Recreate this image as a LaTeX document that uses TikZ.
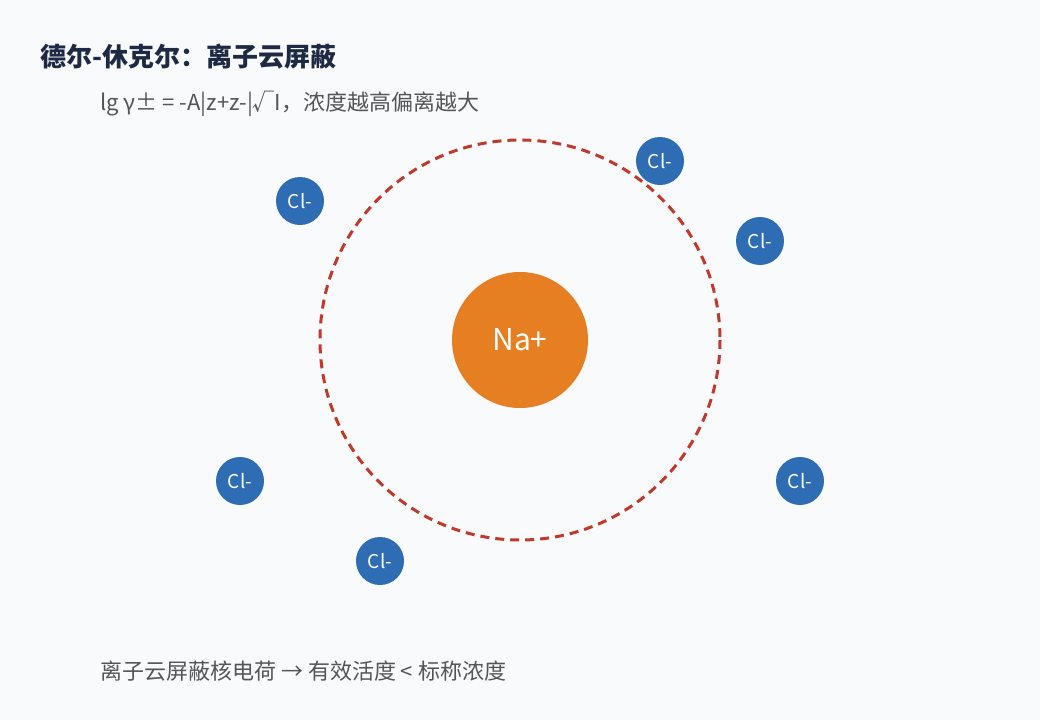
\documentclass[tikz,border=0pt]{standalone}
\usepackage{fontspec}
\setmainfont{Noto Sans CJK SC}
\definecolor{bgc}{HTML}{F8FAFC}
\definecolor{titc}{HTML}{1E2A44}
\definecolor{txtc}{HTML}{555555}
\definecolor{shellc}{HTML}{C0392B}
\definecolor{nac}{HTML}{E67E22}
\definecolor{clc}{HTML}{2E6DB4}
\tikzset{cation/.style = {circle, fill=nac, text=white, minimum size=136pt, inner sep=0pt, font=\fontsize{30}{30}\selectfont},
         anion/.style = {circle, fill=clc, text=white, minimum size=48pt, inner sep=0pt, font=\fontsize{19}{19}\selectfont},
         shell/.style = {draw=shellc, line width=3pt, dash pattern=on 9pt off 6pt},
         label/.style = {anchor=west, text=txtc, inner sep=0pt, font=\fontsize{22}{22}\selectfont}}
\begin{document}
\begin{tikzpicture}[x=1pt,y=-1pt]
        \useasboundingbox[fill=bgc](0,0)rectangle(1040,720);
        \node[anchor=west,inner sep=0pt,text=titc,font=\fontsize{26}{26}\selectfont\bfseries](title)at(40,57){德尔-休克尔：离子云屏蔽};
        \node[label](eq)at(100,104){lg γ± = -A|z+z-|√I，浓度越高偏离越大};

        \draw[shell](520,340)circle(200);
        \node[cation](na)at(520,340){Na+};

        \node[anion](cl1)at(660,161){Cl-};
        \node[anion](cl2)at(300,201){Cl-};
        \node[anion](cl3)at(760,241){Cl-};
        \node[anion](cl4)at(240,481){Cl-};
        \node[anion](cl5)at(800,481){Cl-};
        \node[anion](cl6)at(380,561){Cl-};

        \node[label](note)at(100,671){离子云屏蔽核电荷 → 有效活度 < 标称浓度};
    \end{tikzpicture}
\end{document}
